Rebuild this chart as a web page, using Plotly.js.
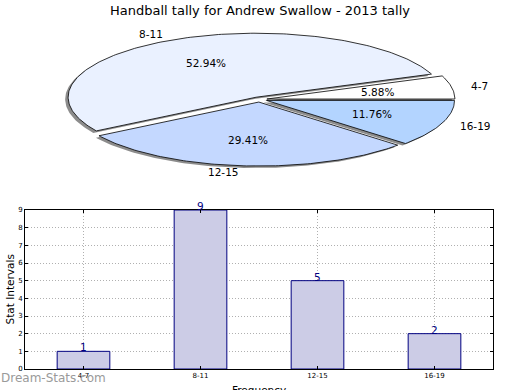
<!DOCTYPE html>
<html>
<head>
<meta charset="utf-8">
<script src="https://cdn.plot.ly/plotly-3.0.1.min.js"></script>
<style>html,body{margin:0;padding:0;background:#fff;}#chart{width:520px;height:390px;}</style>
</head>
<body>
<div id="chart"></div>
<script>
// ---- data ----
const categories = ['4-7', '8-11', '12-15', '16-19'];
const counts = [1, 9, 5, 2];
const pieColors = ['#ffffff', '#eaf1ff', '#c4d8ff', '#b3d4ff'];
const barValueLabels = ['1', '9', '5', '2'];
const chartTitle = 'Handball tally for Andrew Swallow - 2013 tally';

// ---- pie geometry (pixel coordinates of the pie axes) ----
const cx = 259.5, cy = 99.5, ra = 188, rb = 64, explode = 0.04;
const shX = -3, shY = 2;
const FONT = 'DejaVu Sans, sans-serif';

const total = counts.reduce((s, v) => s + v, 0);
const traces = [];
const annotations = [];
let start = 0;
counts.forEach((v, i) => {
  const span = 360 * v / total;
  const t1 = start, t2 = start + span;
  const mid = (t1 + t2) / 2 * Math.PI / 180;
  const ox = cx + explode * ra * Math.cos(mid);
  const oy = cy - explode * rb * Math.sin(mid);
  const n = Math.ceil(span) + 1;
  const xs = [ox], ys = [oy];
  for (let k = 0; k <= n; k++) {
    const t = (t1 + (t2 - t1) * k / n) * Math.PI / 180;
    xs.push(ox + ra * Math.cos(t));
    ys.push(oy - rb * Math.sin(t));
  }
  xs.push(ox); ys.push(oy);
  traces.push({
    type: 'scatter', mode: 'lines', xaxis: 'x2', yaxis: 'y2',
    x: xs.map(x => x + shX), y: ys.map(y => y + shY),
    fill: 'toself', fillcolor: 'rgba(0,0,0,0.45)', line: {width: 0},
    hoverinfo: 'skip', showlegend: false
  });
  traces.push({
    type: 'scatter', mode: 'lines', xaxis: 'x2', yaxis: 'y2',
    x: xs, y: ys, fill: 'toself', fillcolor: pieColors[i],
    line: {color: '#000000', width: 0.8},
    hoverinfo: 'skip', showlegend: false
  });
  // labels
  const lx = ox + 1.1 * ra * Math.cos(mid);
  const ly = oy - 1.1 * rb * Math.sin(mid);
  annotations.push({
    xref: 'x2', yref: 'y2', x: lx, y: ly, text: categories[i], showarrow: false,
    xanchor: Math.cos(mid) > 0 ? 'left' : 'right', yanchor: 'middle',
    font: {family: FONT, size: 10.5, color: '#000'}, borderpad: 0
  });
  const px = ox + 0.6 * ra * Math.cos(mid);
  const py = oy - 0.6 * rb * Math.sin(mid);
  annotations.push({
    xref: 'x2', yref: 'y2', x: px, y: py, text: (100 * v / total).toFixed(2) + '%', showarrow: false,
    xanchor: 'center', yanchor: 'middle',
    font: {family: FONT, size: 10.5, color: '#000'}, borderpad: 0
  });
  start = t2;
});

// ---- bar chart ----
traces.push({
  type: 'bar', x: categories, y: counts, xaxis: 'x', yaxis: 'y', width: 0.45,
  marker: {color: '#ccccE6', line: {color: '#000080', width: 1}},
  hoverinfo: 'skip', showlegend: false
});
categories.forEach((c, i) => {
  annotations.push({
    xref: 'x', yref: 'y', x: c, y: counts[i], text: barValueLabels[i], showarrow: false,
    xanchor: 'center', yanchor: 'bottom', yshift: -3,
    font: {family: FONT, size: 10.5, color: '#000080'}, borderpad: 0
  });
});
annotations.push({
  xref: 'x2', yref: 'y2', x: 9, y: 289.5, text: 'Stat Intervals', textangle: -90, showarrow: false,
  xanchor: 'center', yanchor: 'middle', font: {family: FONT, size: 10.5, color: '#000'}
});
annotations.push({
  xref: 'x2', yref: 'y2', x: 259, y: 390, text: 'Frequency', showarrow: false,
  xanchor: 'center', yanchor: 'middle', font: {family: FONT, size: 10.5, color: '#000'}
});
annotations.push({
  xref: 'x2', yref: 'y2', x: 0, y: 378, text: 'Dream-Stats.com', showarrow: false,
  xanchor: 'left', yanchor: 'middle', font: {family: FONT, size: 12, color: '#9a9a9a'}, borderpad: 0
});

const axCommon = {
  showline: true, linecolor: '#000', linewidth: 1, mirror: 'ticks',
  showgrid: true, gridcolor: '#b0b0b0', griddash: '1px,2px', gridwidth: 1,
  ticks: 'inside', ticklen: 3, tickcolor: '#000', zeroline: false,
  tickfont: {family: FONT, size: 7, color: '#000'}, fixedrange: true
};

const layout = {
  width: 520, height: 390,
  margin: {l: 0, r: 0, t: 0, b: 0},
  paper_bgcolor: '#ffffff', plot_bgcolor: 'rgba(0,0,0,0)',
  title: {text: chartTitle, x: 0.5, xanchor: 'center', xref: 'paper', y: 1 - 10 / 390, yanchor: 'middle', yref: 'paper',
          font: {family: FONT, size: 13, color: '#000'}},
  xaxis: Object.assign({}, axCommon, {domain: [25 / 520, 493 / 520], anchor: 'y', type: 'category',
          categoryorder: 'array', categoryarray: categories, range: [-0.5, 3.5]}),
  yaxis: Object.assign({}, axCommon, {domain: [1 - 369 / 390, 1 - 210 / 390], anchor: 'x', range: [0, 9], dtick: 1, tick0: 0}),
  xaxis2: {domain: [0, 1], anchor: 'y2', range: [0, 520], visible: false, fixedrange: true},
  yaxis2: {domain: [0, 1], anchor: 'x2', range: [390, 0], visible: false, fixedrange: true},
  annotations: annotations,
  showlegend: false
};

Plotly.newPlot('chart', traces, layout, {staticPlot: true, displayModeBar: false});
</script>
</body>
</html>
